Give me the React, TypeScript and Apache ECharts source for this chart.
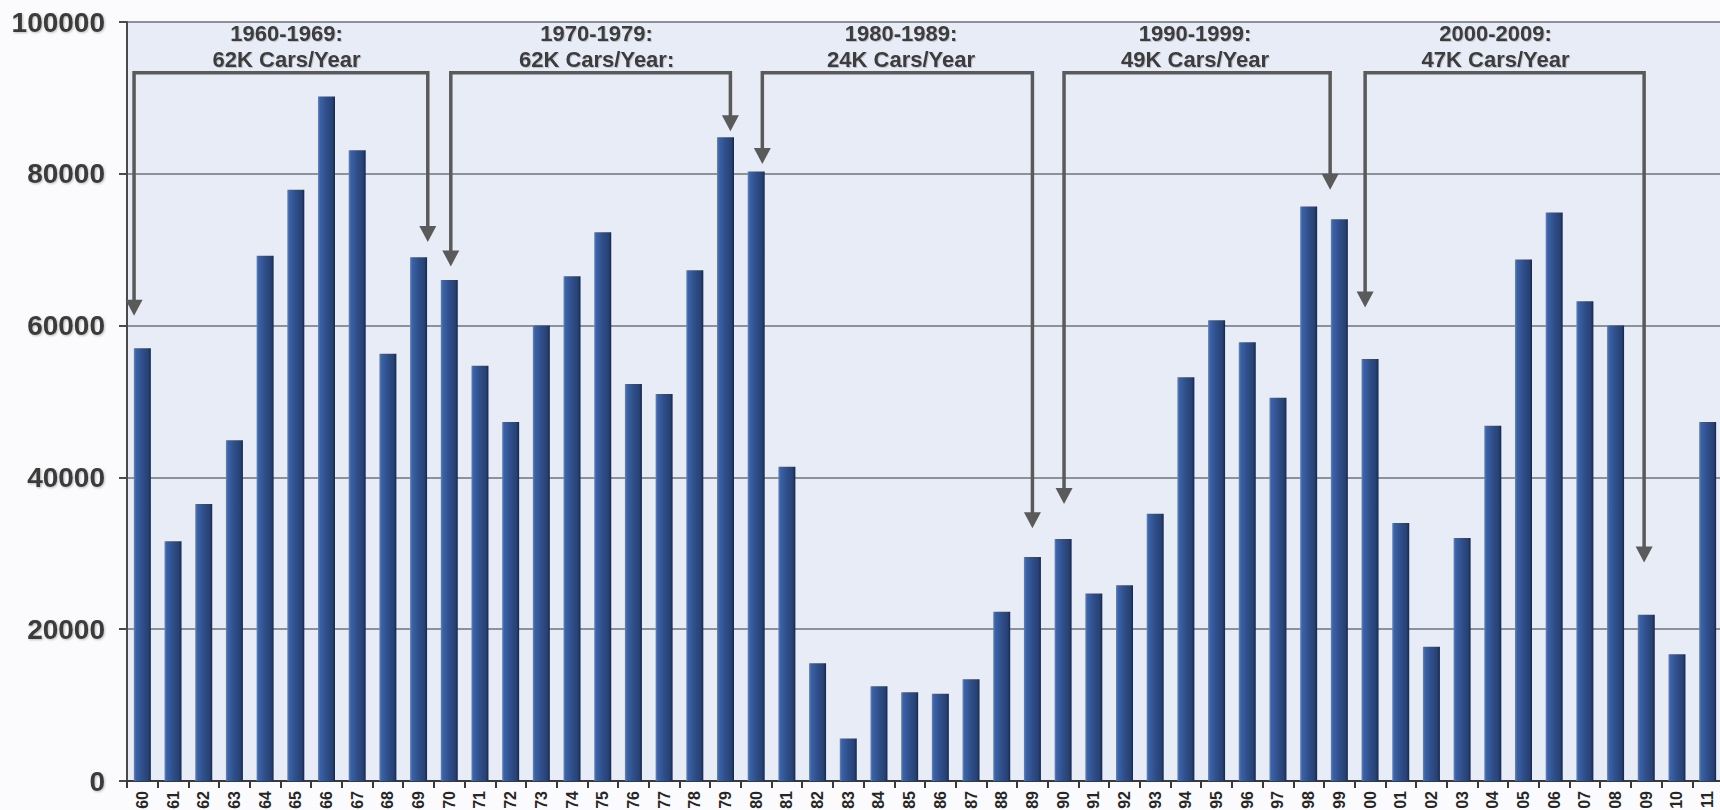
import React, { useEffect, useRef } from 'react';
import * as echarts from 'echarts';

// Model-year labels (1960 .. 2011)
const years = [
  '60', '61', '62', '63', '64', '65', '66', '67', '68', '69',
  '70', '71', '72', '73', '74', '75', '76', '77', '78', '79',
  '80', '81', '82', '83', '84', '85', '86', '87', '88', '89',
  '90', '91', '92', '93', '94', '95', '96', '97', '98', '99',
  '00', '01', '02', '03', '04', '05', '06', '07', '08', '09',
  '10', '11',
];

// Cars per year
const cars = [
  57000, 31600, 36500, 44900, 69200, 77900, 90200, 83100, 56300, 69000,
  66000, 54700, 47300, 60000, 66500, 72300, 52300, 51000, 67300, 84800,
  80300, 41400, 15500, 5600, 12500, 11700, 11500, 13400, 22300, 29500,
  31900, 24700, 25800, 35200, 53200, 60700, 57800, 50500, 75700, 74000,
  55600, 34000, 17700, 32000, 46800, 68700, 74900, 63200, 60000, 21900,
  16700, 47300,
];

// Decade annotations
const decadeTitles = ['1960-1969:', '1970-1979:', '1980-1989:', '1990-1999:', '2000-2009:'];
const decadeAverages = ['62K Cars/Year', '62K Cars/Year:', '24K Cars/Year', '49K Cars/Year', '47K Cars/Year'];
// bracket ends, in category units (index of year, fractional)
const bracketStart = [-0.27, 10.05, 20.2, 30.03, 39.84];
const bracketEnd = [9.3, 19.16, 29.0, 38.7, 48.93];
// arrow tips, in data units
const tipStart = [61300, 67800, 81300, 36500, 62400];
const tipEnd = [71000, 85600, 33300, 77900, 28800];
// label centres in category units
const labelCenter = [4.7, 14.8, 24.72, 34.3, 44.09];
const bracketTopValue = 93300;
const titleLineValue = 98500;
const averageLineValue = 95000;

const FONT = '"Liberation Sans", Arial, Helvetica, sans-serif';

export default function App() {
  const ref = useRef<HTMLDivElement>(null);

  useEffect(() => {
    if (!ref.current) return;
    const chart = echarts.init(ref.current, undefined, { renderer: 'svg' });

    const lineColor = '#5a5a5a';

    const renderBracket = (params: any, api: any) => {
      const i = params.dataIndex;
      const x0 = api.coord([0, 0])[0];
      const band = api.coord([1, 0])[0] - x0;
      const px = (xf: number) => x0 + xf * band;
      const py = (v: number) => api.coord([0, v])[1];
      const xl = px(bracketStart[i]);
      const xr = px(bracketEnd[i]);
      const yt = py(bracketTopValue);
      const yl = py(tipStart[i]);
      const yr = py(tipEnd[i]);
      const ah = 16;
      const aw = 8.5;
      const cx = px(labelCenter[i]);
      const textStyle = {
        font: `bold 22px ${FONT}`,
        fill: '#3c3c3c',
        align: 'center',
        verticalAlign: 'middle',
        textShadowColor: 'rgba(0,0,0,0.18)',
        textShadowBlur: 1,
        textShadowOffsetX: 1,
        textShadowOffsetY: 1,
      };
      return {
        type: 'group',
        children: [
          {
            type: 'polyline',
            shape: { points: [[xl, yl - ah + 1], [xl, yt], [xr, yt], [xr, yr - ah + 1]] },
            style: { stroke: lineColor, lineWidth: 3.5, fill: null, lineJoin: 'miter' },
          },
          {
            type: 'polygon',
            shape: { points: [[xl - aw, yl - ah], [xl + aw, yl - ah], [xl, yl]] },
            style: { fill: lineColor },
          },
          {
            type: 'polygon',
            shape: { points: [[xr - aw, yr - ah], [xr + aw, yr - ah], [xr, yr]] },
            style: { fill: lineColor },
          },
          {
            type: 'text',
            style: { ...textStyle, text: decadeTitles[i], x: cx, y: py(titleLineValue) },
          },
          {
            type: 'text',
            style: { ...textStyle, text: decadeAverages[i], x: cx, y: py(averageLineValue) },
          },
        ],
      };
    };

    chart.setOption({
      animation: false,
      backgroundColor: '#fbfbfd',
      textStyle: { fontFamily: FONT },
      grid: {
        left: 127,
        top: 22,
        width: 1596,
        height: 759,
        show: true,
        backgroundColor: '#e7ecf7',
        borderWidth: 0,
        outerBoundsMode: 'none',
        containLabel: false,
      },
      xAxis: {
        type: 'category',
        data: years,
        boundaryGap: true,
        axisLine: { show: true, lineStyle: { color: '#3a3a3a', width: 2 } },
        axisTick: { show: true, length: 7, lineStyle: { color: '#3a3a3a', width: 2 } },
        axisLabel: {
          rotate: 90,
          interval: 0,
          margin: 10,
          fontSize: 16,
          fontWeight: 'bold',
          color: '#262626',
          fontFamily: FONT,
        },
        splitLine: { show: false },
      },
      yAxis: {
        type: 'value',
        min: 0,
        max: 100000,
        interval: 20000,
        axisLine: { show: true, lineStyle: { color: '#4a4a4a', width: 2 } },
        axisTick: { show: true, length: 8, lineStyle: { color: '#4a4a4a', width: 2 } },
        axisLabel: {
          margin: 22,
          fontSize: 28,
          fontWeight: 'bold',
          color: '#3a3a3a',
          fontFamily: FONT,
          formatter: (v: number) => String(v),
          textShadowColor: 'rgba(0,0,0,0.25)',
          textShadowBlur: 2,
          textShadowOffsetX: 1,
          textShadowOffsetY: 1,
        },
        splitLine: { show: true, lineStyle: { color: '#8d9199', width: 2 } },
      },
      series: [
        {
          type: 'bar',
          data: cars,
          barWidth: 17,
          itemStyle: {
            color: {
              type: 'linear',
              x: 0,
              y: 0,
              x2: 1,
              y2: 0,
              colorStops: [
                { offset: 0, color: '#5b88d2' },
                { offset: 0.12, color: '#3b62a6' },
                { offset: 0.5, color: '#2f4e89' },
                { offset: 0.85, color: '#274171' },
                { offset: 1, color: '#1a2642' },
              ],
            },
          },
          silent: true,
        },
        {
          type: 'custom',
          data: bracketStart.map((_, i) => [i, 0]),
          renderItem: renderBracket,
          silent: true,
          z: 10,
          clip: false,
        },
      ],
    });

    return () => {
      chart.dispose();
    };
  }, []);

  return (
    <div
      ref={ref}
      style={{ position: 'fixed', left: 0, top: 0, width: 1720, height: 810 }}
    />
  );
}
